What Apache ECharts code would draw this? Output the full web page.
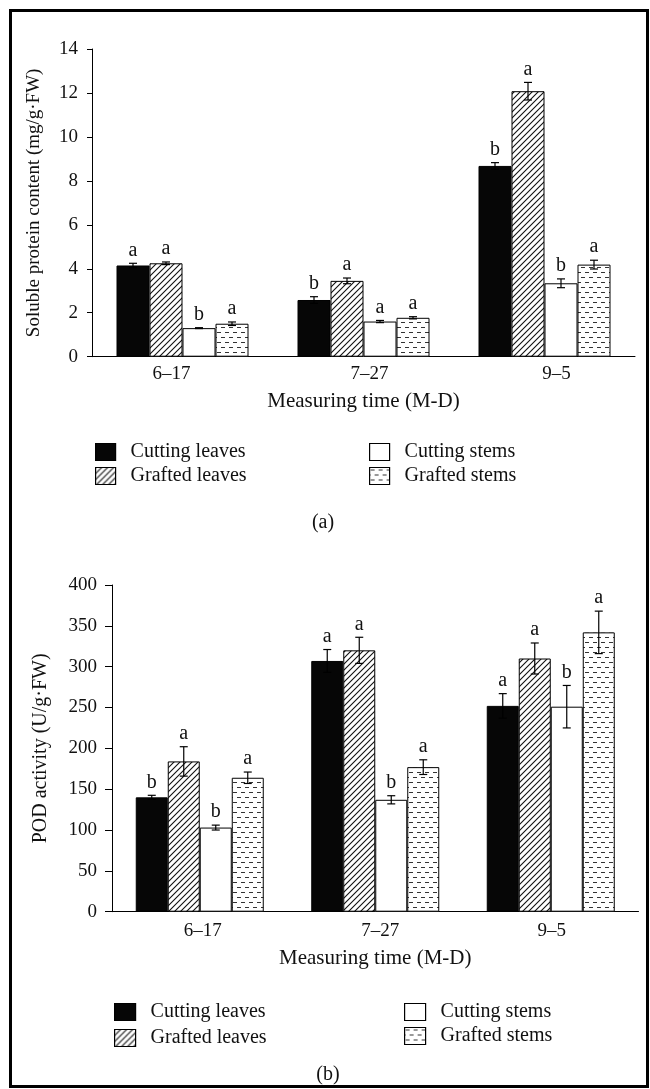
<!DOCTYPE html>
<html>
<head>
<meta charset="utf-8">
<script src="https://cdn.jsdelivr.net/npm/echarts@6/dist/echarts.min.js"></script>
<style>
  html, body { margin: 0; padding: 0; background: #fff; }
  #chart { width: 650px; height: 1089px; }
</style>
</head>
<body>
<div id="chart"></div>
<script>
// categories / groups
const dates = ["6–17", "7–27", "9–5"];
const groups = ["Cutting leaves", "Grafted leaves", "Cutting stems", "Grafted stems"];

// (a) soluble protein content, mg/g·FW
const protTicks = [0, 2, 4, 6, 8, 10, 12, 14];
const protCutLeaf = [4.15, 2.58, 8.68];
const protGrafLeaf = [4.25, 3.45, 12.08];
const protCutStem = [1.30, 1.60, 3.34];
const protGrafStem = [1.50, 1.77, 4.19];
const protCutLeafErr = [0.10, 0.15, 0.15];
const protGrafLeafErr = [0.06, 0.13, 0.40];
const protCutStemErr = [0.02, 0.05, 0.20];
const protGrafStemErr = [0.08, 0.05, 0.20];
const protCutLeafSig = ["a", "b", "b"];
const protGrafLeafSig = ["a", "a", "a"];
const protCutStemSig = ["b", "a", "b"];
const protGrafStemSig = ["a", "a", "a"];

// (b) POD activity, U/g·FW
const podTicks = [0, 50, 100, 150, 200, 250, 300, 350, 400];
const podCutLeaf = [140, 307, 252];
const podGrafLeaf = [184, 320, 310];
const podCutStem = [103, 137, 251];
const podGrafStem = [164, 177, 342];
const podCutLeafErr = [2.5, 14, 15];
const podGrafLeafErr = [18, 16, 19];
const podCutStemErr = [3, 5, 26];
const podGrafStemErr = [7, 9, 26];
const podCutLeafSig = ["b", "a", "a"];
const podGrafLeafSig = ["a", "a", "a"];
const podCutStemSig = ["b", "b", "b"];
const podGrafStemSig = ["a", "a", "a"];

const FONT = "'Liberation Serif', 'Times New Roman', serif";
const INK = "#111";

// fill patterns
function hatchCanvas() {
  const s = 6, c = document.createElement("canvas");
  c.width = s; c.height = s;
  const g = c.getContext("2d");
  g.fillStyle = "#fff"; g.fillRect(0, 0, s, s);
  g.strokeStyle = "#111"; g.lineWidth = 1.1;
  g.beginPath();
  g.moveTo(0, s); g.lineTo(s, 0);
  g.moveTo(-s / 2, s / 2); g.lineTo(s / 2, -s / 2);
  g.moveTo(s / 2, s * 1.5); g.lineTo(s * 1.5, s / 2);
  g.stroke();
  return c;
}
function dashCanvas() {
  const w = 8, h = 10, c = document.createElement("canvas");
  c.width = w; c.height = h;
  const g = c.getContext("2d");
  g.fillStyle = "#fff"; g.fillRect(0, 0, w, h);
  g.strokeStyle = "#333"; g.lineWidth = 1;
  g.beginPath();
  g.moveTo(1, 2.5); g.lineTo(5, 2.5);
  g.moveTo(5, 7.5); g.lineTo(8, 7.5);
  g.moveTo(0, 7.5); g.lineTo(1, 7.5);
  g.stroke();
  return c;
}
const FILLS = [
  "#060606",
  { image: hatchCanvas(), repeat: "repeat" },
  "#fff",
  { image: dashCanvas(), repeat: "repeat" }
];

function barSeries(gi, slot, values, bw) {
  return {
    type: "bar", name: groups[slot], xAxisIndex: gi, yAxisIndex: gi,
    data: values, barWidth: bw, barGap: "0%",
    itemStyle: { color: FILLS[slot], borderColor: "#000", borderWidth: 1 },
    emphasis: { disabled: true }, silent: true
  };
}

function errSeries(gi, slot, bw, values, errs, sigs) {
  return {
    type: "custom", name: "err" + gi + slot, xAxisIndex: gi, yAxisIndex: gi,
    silent: true, z: 5,
    data: values.map(function (v, i) { return [i, v, errs[i]]; }),
    renderItem: function (params, api) {
      const cat = api.value(0), v = api.value(1), e = api.value(2);
      const x = api.coord([cat, v])[0] + (slot - 1.5) * bw;
      const hi = api.coord([cat, v + e])[1];
      const lo = api.coord([cat, v - e])[1];
      const cap = 4;
      const ls = { stroke: "#000", lineWidth: 1.2 };
      return {
        type: "group",
        children: [
          { type: "line", shape: { x1: x, y1: lo, x2: x, y2: hi }, style: ls },
          { type: "line", shape: { x1: x - cap, y1: hi, x2: x + cap, y2: hi }, style: ls },
          { type: "line", shape: { x1: x - cap, y1: lo, x2: x + cap, y2: lo }, style: ls },
          {
            type: "text", x: x, y: hi - 3,
            style: {
              text: sigs[params.dataIndex], fill: INK,
              font: "20px " + FONT,
              align: "center", verticalAlign: "bottom",
              textAlign: "center", textVerticalAlign: "bottom"
            }
          }
        ]
      };
    }
  };
}

function shiftedLabels(shifts, margin) {
  const rich = {};
  shifts.forEach(function (d, i) {
    rich["s" + i] = {
      fontFamily: FONT, fontSize: 19, color: INK,
      padding: d < 0 ? [0, -2 * d, 0, 0] : [0, 0, 0, 2 * d]
    };
  });
  return {
    margin: margin, fontFamily: FONT, fontSize: 19, color: INK,
    formatter: function (v, i) { return "{s" + i + "|" + v + "}"; },
    rich: rich
  };
}

function xAxisFor(gi, shifts, margin, gap) {
  return {
    gridIndex: gi, type: "category", data: dates,
    axisLine: { lineStyle: { color: "#000", width: 1 } },
    axisTick: { show: false },
    axisLabel: shiftedLabels(shifts, margin),
    name: "Measuring time (M-D)", nameLocation: "middle", nameGap: gap,
    nameTextStyle: { fontFamily: FONT, fontSize: 21, color: INK }
  };
}

function yAxisFor(gi, ticks, name, nameSize, gap, tickLen, margin) {
  return {
    gridIndex: gi, type: "value",
    min: ticks[0], max: ticks[ticks.length - 1], interval: ticks[1] - ticks[0],
    axisLine: { show: true, lineStyle: { color: "#000", width: 1 } },
    axisTick: { show: true, length: tickLen, lineStyle: { color: "#000", width: 1 } },
    axisLabel: { margin: margin, fontFamily: FONT, fontSize: 19, color: INK },
    splitLine: { show: false },
    name: name, nameLocation: "middle", nameGap: gap,
    nameTextStyle: { fontFamily: FONT, fontSize: nameSize, color: INK }
  };
}

function legendFor(items, left, top, gap, iw) {
  return {
    data: items, orient: "vertical", left: left, top: top, padding: 0,
    icon: "rect", itemWidth: iw, itemHeight: 17, itemGap: gap,
    selectedMode: false,
    itemStyle: { borderColor: "#000", borderWidth: 1.2 },
    textStyle: { fontFamily: FONT, fontSize: 20, color: INK, padding: [0, 0, 0, 10] }
  };
}

const chart = echarts.init(document.getElementById("chart"));

const BW_A = 33, BW_B = 32;

chart.setOption({
  animation: false,
  backgroundColor: "#fff",
  grid: [
    { left: 92, top: 49, width: 543, height: 307.7 },
    { left: 112, top: 585, width: 526.5, height: 326.7 }
  ],
  xAxis: [xAxisFor(0, [-11, 6, 12], 8, 34), xAxisFor(1, [3, 5, 1], 10, 36)],
  yAxis: [
    yAxisFor(0, protTicks, "Soluble protein content (mg/g·FW)", 19, 48, 5, 14),
    yAxisFor(1, podTicks, "POD activity (U/g·FW)", 20, 61, 7, 15)
  ],
  legend: [
    legendFor([groups[0], groups[1]], 95, 442, 4, 20),
    legendFor([groups[2], groups[3]], 369, 442, 4, 20),
    legendFor([groups[0], groups[1]], 114, 1002, 6, 21),
    legendFor([groups[2], groups[3]], 404, 1002, 4, 21)
  ],
  graphic: [
    { type: "rect", shape: { x: 10.5, y: 10.5, width: 637, height: 1076 },
      style: { fill: null, stroke: "#000", lineWidth: 3 }, silent: true },
    { type: "text", x: 323, y: 523, style: { text: "(a)", font: "20px " + FONT, fill: INK,
      align: "center", verticalAlign: "middle", textAlign: "center", textVerticalAlign: "middle" } },
    { type: "text", x: 328, y: 1075, style: { text: "(b)", font: "20px " + FONT, fill: INK,
      align: "center", verticalAlign: "middle", textAlign: "center", textVerticalAlign: "middle" } }
  ],
  series: [
    barSeries(0, 0, protCutLeaf, BW_A),
    barSeries(0, 1, protGrafLeaf, BW_A),
    barSeries(0, 2, protCutStem, BW_A),
    barSeries(0, 3, protGrafStem, BW_A),
    barSeries(1, 0, podCutLeaf, BW_B),
    barSeries(1, 1, podGrafLeaf, BW_B),
    barSeries(1, 2, podCutStem, BW_B),
    barSeries(1, 3, podGrafStem, BW_B),
    errSeries(0, 0, BW_A, protCutLeaf, protCutLeafErr, protCutLeafSig),
    errSeries(0, 1, BW_A, protGrafLeaf, protGrafLeafErr, protGrafLeafSig),
    errSeries(0, 2, BW_A, protCutStem, protCutStemErr, protCutStemSig),
    errSeries(0, 3, BW_A, protGrafStem, protGrafStemErr, protGrafStemSig),
    errSeries(1, 0, BW_B, podCutLeaf, podCutLeafErr, podCutLeafSig),
    errSeries(1, 1, BW_B, podGrafLeaf, podGrafLeafErr, podGrafLeafSig),
    errSeries(1, 2, BW_B, podCutStem, podCutStemErr, podCutStemSig),
    errSeries(1, 3, BW_B, podGrafStem, podGrafStemErr, podGrafStemSig)
  ]
});

window.addEventListener("resize", function () { chart.resize(); });
</script>
</body>
</html>
